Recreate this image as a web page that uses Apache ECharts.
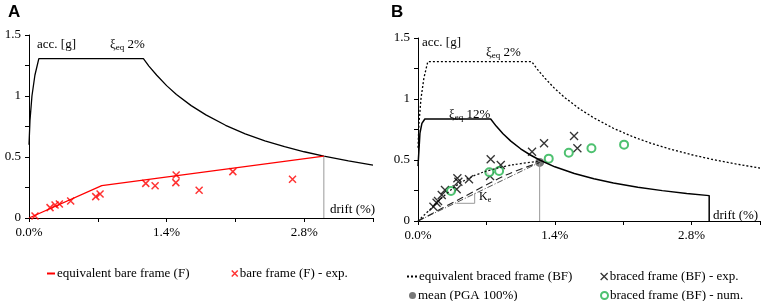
<!DOCTYPE html>
<html>
<head>
<meta charset="utf-8">
<script src="https://cdn.jsdelivr.net/npm/echarts@6/dist/echarts.min.js"></script>
<style>
  html, body { margin: 0; padding: 0; background: #fff; }
  #chart { width: 765px; height: 301px; }
</style>
</head>
<body>
<div id="chart"></div>
<script>
// drift [%] , acc [g]
const spectrum2 = [[0, 0.6], [0.01, 0.8], [0.03, 1.0], [0.06, 1.17], [0.1, 1.306], [1.164, 1.306], [1.22, 1.245], [1.3, 1.17], [1.4, 1.085], [1.5, 1.013], [1.65, 0.921], [1.8, 0.845], [2.0, 0.76], [2.2, 0.69], [2.4, 0.633], [2.6, 0.585], [2.8, 0.543], [3.0, 0.507], [3.25, 0.468], [3.5, 0.434]]
const spectrum12 = [[0, 0.45], [0.02, 0.72], [0.04, 0.8], [0.07, 0.836], [0.744, 0.836], [0.8, 0.778], [0.87, 0.715], [0.95, 0.655], [1.05, 0.592], [1.15, 0.541], [1.245, 0.5], [1.4, 0.444], [1.6, 0.389], [1.8, 0.346], [2.0, 0.311], [2.25, 0.276], [2.5, 0.249], [2.75, 0.226], [2.98, 0.208], [2.98, 0]]
const bareEquiv = [[0, 0], [0.74, 0.265], [3.0, 0.508]]
const bareDrop = [[3.0, 0], [3.0, 0.508]]
const bareExp = [[0.061, 0.016], [0.214, 0.085], [0.265, 0.107], [0.309, 0.115], [0.424, 0.139], [0.679, 0.175], [0.723, 0.197], [1.188, 0.284], [1.283, 0.265], [1.497, 0.352], [1.494, 0.29], [1.731, 0.227], [2.074, 0.38], [2.681, 0.317]]
const bracedEquiv = [[0, 0], [0.15, 0.115], [0.3, 0.23], [0.45, 0.32], [0.6, 0.38], [0.75, 0.42], [0.9, 0.45], [1.05, 0.47], [1.245, 0.49]]
const bracedDash = [[0, 0], [0.45, 0.19], [0.9, 0.377], [1.245, 0.48]]
const secantKe = [[0, 0], [1.245, 0.48]]
const keTriangle = [[0.393, 0.145], [0.58, 0.145], [0.58, 0.227]]
const meanPt = [[1.245, 0.48]]
const meanDrop = [[1.245, 0], [1.245, 0.48]]
const bracedExp = [[0.158, 0.117], [0.19, 0.15], [0.205, 0.164], [0.243, 0.213], [0.276, 0.254], [0.396, 0.26], [0.403, 0.35], [0.413, 0.322], [0.522, 0.342], [0.737, 0.369], [0.744, 0.506], [0.847, 0.459], [1.167, 0.568], [1.29, 0.637], [1.597, 0.697], [1.631, 0.596]]
const bracedNum = [[0.338, 0.246], [0.73, 0.4], [0.83, 0.41], [1.338, 0.511], [1.543, 0.56], [1.775, 0.596], [2.109, 0.626]]

const SERIF = 'Liberation Serif'
const CROSS = 'path://M0,0L10,10M10,0L0,10'
const GREEN = '#22b24c'

const chart = echarts.init(document.getElementById('chart'))

const xAxisBase = (gridIndex) => ({
  gridIndex,
  type: 'value',
  min: 0,
  max: 3.5,
  interval: 0.7,
  axisLine: { lineStyle: { color: '#000', width: 1 } },
  axisTick: { length: 4, lineStyle: { color: '#000' } },
  splitLine: { show: false },
  axisLabel: {
    color: '#000', fontFamily: SERIF, fontSize: 13, margin: 8,
    formatter: v => (Math.round(v * 10) % 14 === 0 ? v.toFixed(1) + '%' : '')
  }
})
const yAxisBase = (gridIndex) => ({
  gridIndex,
  type: 'value',
  min: 0,
  max: 1.5,
  interval: 0.25,
  axisLine: { show: true, lineStyle: { color: '#000', width: 1 } },
  axisTick: { show: true, length: 4, lineStyle: { color: '#000' } },
  splitLine: { show: false },
  axisLabel: {
    color: '#000', fontFamily: SERIF, fontSize: 13, margin: 8,
    formatter: v => (Math.round(v * 100) % 50 === 0 ? String(Math.round(v * 10) / 10) : '')
  }
})

const txt = (left, top, text) => ({
  type: 'text', left, top,
  style: { text, fill: '#000', font: '13px "Liberation Serif"' }
})
const xiText = (left, top, pct) => ({
  type: 'text', left, top,
  style: {
    text: '{a|ξ}{s|eq}{a| ' + pct + '}',
    rich: {
      a: { fontFamily: SERIF, fontSize: 13, color: '#000' },
      s: { fontFamily: SERIF, fontSize: 9, color: '#000', padding: [7, 0, 0, 0] }
    }
  }
})

const legendBase = (left, top, name, icon, itemStyle, w, h) => ({
  left, top,
  data: [{ name, icon, itemStyle }],
  itemWidth: w, itemHeight: h,
  selectedMode: false,
  textStyle: { color: '#000', fontFamily: SERIF, fontSize: 13, padding: [0, 0, 0, -3] }
})

const option = {
  animation: false,
  backgroundColor: '#fff',
  grid: [
    { left: 29, right: 392, top: 35, bottom: 83 },
    { left: 418, right: 5, top: 38, bottom: 80 }
  ],
  xAxis: [xAxisBase(0), xAxisBase(1)],
  yAxis: [yAxisBase(0), yAxisBase(1)],
  legend: [
    legendBase(42, 262, 'equivalent bare frame (F)', 'rect', { color: '#ff0000' }, 8, 2),
    legendBase(226, 262, 'bare frame (F) - exp.', CROSS, { color: 'transparent', borderColor: '#ff0000', borderWidth: 1.5 }, 6, 6),
    legendBase(402, 265, 'equivalent braced frame (BF)', 'path://M0,0h2v2h-2zM4,0h2v2h-2zM8,0h2v2h-2z', { color: '#000' }, 10, 2),
    legendBase(595, 265, 'braced frame (BF) - exp.', CROSS, { color: 'transparent', borderColor: '#000', borderWidth: 1.3 }, 7, 7),
    legendBase(404, 284, 'mean (PGA 100%)', 'circle', { color: '#555' }, 7, 7),
    legendBase(595, 284, 'braced frame (BF) - num.', 'emptyCircle', { color: GREEN, borderColor: GREEN, borderWidth: 1.3 }, 7, 7)
  ],
  graphic: [
    { type: 'text', left: 8, top: 4, style: { text: 'A', fill: '#000', font: 'bold 17px "Liberation Sans"' } },
    { type: 'text', left: 391, top: 4, style: { text: 'B', fill: '#000', font: 'bold 17px "Liberation Sans"' } },
    txt(37, 38, 'acc. [g]'),
    xiText(110, 38, '2%'),
    txt(330, 203, 'drift (%)'),
    txt(422, 36, 'acc. [g]'),
    xiText(486, 46, '2%'),
    xiText(449, 108, '12%'),
    txt(713, 209, 'drift (%)'),
    {
      type: 'text', left: 479, top: 191,
      style: {
        text: '{a|K}{s|e}',
        rich: {
          a: { fontFamily: SERIF, fontSize: 12, color: '#000' },
          s: { fontFamily: SERIF, fontSize: 8, color: '#000', padding: [6, 0, 0, 0] }
        }
      }
    }
  ],
  series: [
    {
      name: 'spectrum 2% A', type: 'line', xAxisIndex: 0, yAxisIndex: 0,
      data: spectrum2, showSymbol: false,
      lineStyle: { color: '#000', width: 1.3 }
    },
    {
      name: 'drop A', type: 'line', xAxisIndex: 0, yAxisIndex: 0,
      data: bareDrop, showSymbol: false,
      lineStyle: { color: '#999', width: 1 }
    },
    {
      name: 'equivalent bare frame (F)', type: 'line', xAxisIndex: 0, yAxisIndex: 0,
      data: bareEquiv, showSymbol: false,
      lineStyle: { color: '#ff0000', width: 1.3 }, itemStyle: { color: '#ff0000' }
    },
    {
      name: 'bare frame (F) - exp.', type: 'scatter', xAxisIndex: 0, yAxisIndex: 0,
      data: bareExp, symbol: CROSS, symbolSize: 7,
      itemStyle: { color: 'transparent', borderColor: '#ff0000', borderWidth: 1.5 }
    },
    {
      name: 'spectrum 2% B', type: 'line', xAxisIndex: 1, yAxisIndex: 1,
      data: spectrum2, showSymbol: false,
      lineStyle: { color: '#000', width: 1.3, type: [2, 2] }
    },
    {
      name: 'spectrum 12% B', type: 'line', xAxisIndex: 1, yAxisIndex: 1,
      data: spectrum12, showSymbol: false,
      lineStyle: { color: '#000', width: 1.5 }
    },
    {
      name: 'mean drop', type: 'line', xAxisIndex: 1, yAxisIndex: 1,
      data: meanDrop, showSymbol: false,
      lineStyle: { color: '#999', width: 1 }
    },
    {
      name: 'Ke triangle', type: 'line', xAxisIndex: 1, yAxisIndex: 1,
      data: keTriangle, showSymbol: false,
      lineStyle: { color: '#999', width: 1 }
    },
    {
      name: 'secant', type: 'line', xAxisIndex: 1, yAxisIndex: 1,
      data: secantKe, showSymbol: false,
      lineStyle: { color: '#555', width: 1, type: [6, 2, 1, 2] }
    },
    {
      name: 'braced dash', type: 'line', xAxisIndex: 1, yAxisIndex: 1,
      data: bracedDash, showSymbol: false, smooth: 0.3,
      lineStyle: { color: '#222', width: 1.1, type: [7, 4] }
    },
    {
      name: 'equivalent braced frame (BF)', type: 'line', xAxisIndex: 1, yAxisIndex: 1,
      data: bracedEquiv, showSymbol: false, smooth: 0.4,
      lineStyle: { color: '#111', width: 1.3, type: [2, 2] }, itemStyle: { color: '#000' }
    },
    {
      name: 'braced frame (BF) - exp.', type: 'scatter', xAxisIndex: 1, yAxisIndex: 1,
      data: bracedExp, symbol: CROSS, symbolSize: 8,
      itemStyle: { color: 'transparent', borderColor: '#000', borderWidth: 1.3 }
    },
    {
      name: 'braced frame (BF) - num.', type: 'scatter', xAxisIndex: 1, yAxisIndex: 1,
      data: bracedNum, symbol: 'emptyCircle', symbolSize: 8,
      itemStyle: { color: GREEN, borderColor: GREEN, borderWidth: 1.4 }
    },
    {
      name: 'mean (PGA 100%)', type: 'scatter', xAxisIndex: 1, yAxisIndex: 1,
      data: meanPt, symbol: 'circle', symbolSize: 9,
      itemStyle: { color: '#555' }
    }
  ]
}

chart.setOption(option)
</script>
</body>
</html>
